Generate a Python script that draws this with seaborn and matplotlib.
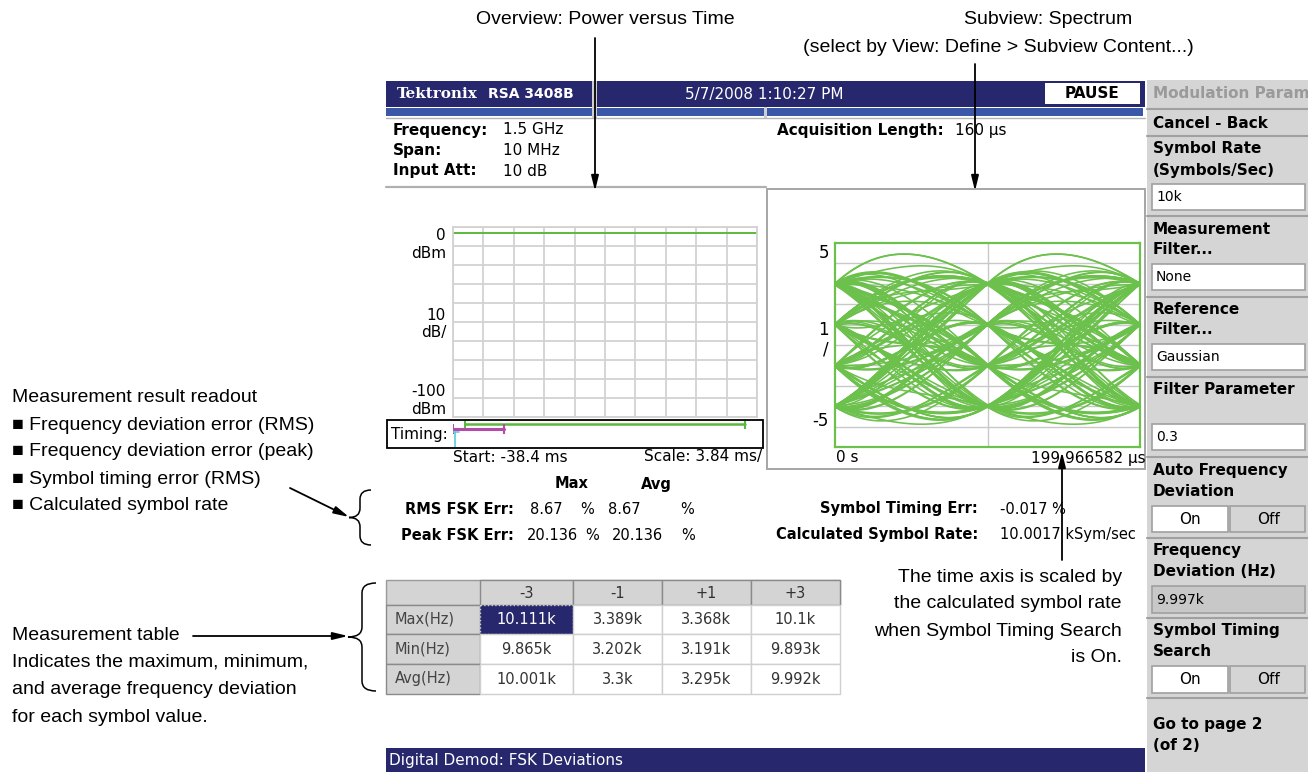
import numpy as np
import pandas as pd
import matplotlib
matplotlib.use("Agg")
import matplotlib.pyplot as plt
import seaborn as sns
from matplotlib.patches import Rectangle, PathPatch
from matplotlib.path import Path

sns.set_style("white")
plt.rcParams["font.family"] = ["DejaVu Sans"]
plt.rcParams["text.color"] = "black"

W, H = 1308, 772
SCREEN = ["DejaVu Sans"]
ANNOT = ["Liberation Sans Narrow", "Liberation Sans", "DejaVu Sans"]

NAVY = "#26276c"
STRIP = "#3b58a8"
GREEN = "#5cb83c"
EYE_GREEN = "#6cc04c"
GRID = "#d2d2d2"
PANEL = "#d5d5d5"

# ---- instrument readouts ----
info_labels = ["Frequency:", "Span:", "Input Att:"]
info_values = ["1.5 GHz", "10 MHz", "10 dB"]
acq_length = "160 µs"

rms_fsk_err = ["8.67", "8.67"]        # Max, Avg (%)
peak_fsk_err = ["20.136", "20.136"]   # Max, Avg (%)
symbol_timing_err = "-0.017"          # %
calc_symbol_rate = 10.0017            # kSym/sec

# ---- measurement table ----
table_symbols = ["-3", "-1", "+1", "+3"]
table_rows = ["Max(Hz)", "Min(Hz)", "Avg(Hz)"]
max_hz = ["10.111k", "3.389k", "3.368k", "10.1k"]
min_hz = ["9.865k", "3.202k", "3.191k", "9.893k"]
avg_hz = ["10.001k", "3.3k", "3.295k", "9.992k"]

# ---- overview: power versus time ----
pvt_time_ms = [-38.4, 0.0]
pvt_power_dbm = [-3.0, -3.0]
timing_acq_ms = [-36.9, -1.5]
timing_analysis_ms = [-38.4, -32.0]
timing_trigger_ms = -38.2

# ---- subview: eye diagram, symbol sample values (deviation) ----
eye_samples = [
    3.02, 2.95, -1.04, -3.01, 1.03, 0.97, -2.96, 3.05, -0.98, 1.01, 3.00, -3.04,
    -1.02, 2.98, 1.05, -0.97, -3.03, -2.97, 0.99, 3.04, 2.96, -1.01, 1.02, -2.99,
    3.01, -3.02, -0.96, 0.98, 2.97, 1.04, -1.03, 3.03, -2.98, 0.96, -1.05, -3.00,
    2.99, 3.02, -0.99, -2.95, 1.00, 2.94, -3.05, 1.06, -1.00, 0.95, 3.06, -0.95,
    -3.01, 2.93, -1.06, 1.02, -2.94, 3.00, 0.97, -0.98, 2.99, -3.06, 1.01, 3.03,
    -1.02, -2.97, 0.94, -1.04, 3.04, -3.00, 2.96, 1.03, -0.97, -3.04, 3.01, 0.99,
    1.05, -2.99, -0.99, 2.97, -3.02, 1.00, 3.05, -1.01, 0.96, -2.96, 2.95, -0.94,
    3.00, 1.02, -3.03, -1.05, 2.98, -2.95, 1.04, -0.96, 3.02, 0.98, -3.01, 2.94,
    -0.97, 3.04, -2.93, -1.03, 0.97, -3.05, 1.01, 2.95, -0.95, -2.98, 3.03, 1.04,
    -1.00, -3.02, 2.97, -0.96, 1.05, 3.01, -3.04, 0.95, -1.04, 2.96, 1.00, -2.97,
    3.05, -0.99, -3.00, 1.03, 2.98, -1.02, 0.99, -2.94, 3.02, 3.00, -1.03, 1.01,
    -3.03, 2.99, -0.98, 0.97, -2.96, 1.02, 3.04, -1.05, -2.99, 2.95, 0.98, -3.01,
]
period_us = 1000.0 / calc_symbol_rate


def eye_traces(samples, tension=1.15, n=40):
    # smooth each two-symbol window through the sampled deviations
    s = np.asarray(samples, dtype=float)
    u = np.linspace(0, 1, n)
    h00 = 2 * u**3 - 3 * u**2 + 1
    h10 = u**3 - 2 * u**2 + u
    h01 = -2 * u**3 + 3 * u**2
    h11 = u**3 - u**2
    segs = {}
    for j in range(1, len(s) - 2):
        m0 = tension * (s[j + 1] - s[j - 1])
        m1 = tension * (s[j + 2] - s[j])
        segs[j] = h00 * s[j] + h10 * m0 + h01 * s[j + 1] + h11 * m1
    frames = []
    for k, j in enumerate(range(1, len(s) - 3)):
        y = np.concatenate([segs[j], segs[j + 1][1:]])
        x = np.concatenate([u, 1 + u[1:]]) * period_us
        frames.append(pd.DataFrame({"t": x, "dev": y, "trace": k}))
    return pd.concat(frames, ignore_index=True)


fig = plt.figure(figsize=(W / 100, H / 100), dpi=100)
bg = fig.add_axes([0, 0, 1, 1])
bg.set_xlim(0, W)
bg.set_ylim(H, 0)
bg.axis("off")


def px_axes(x0, y0, x1, y1):
    return fig.add_axes([x0 / W, 1 - y1 / H, (x1 - x0) / W, (y1 - y0) / H])


def txt(x, y, s, size=11, family=SCREEN, **kw):
    kw.setdefault("va", "center")
    bg.text(x, y, s, fontsize=size, family=family, **kw)


def rect(x0, y0, x1, y1, fc="none", ec="none", lw=1.0, **kw):
    bg.add_patch(Rectangle((x0, y0), x1 - x0, y1 - y0, fc=fc, ec=ec, lw=lw, **kw))


def arrow(x0, y0, x1, y1):
    bg.annotate("", xy=(x1, y1), xytext=(x0, y0),
                arrowprops=dict(arrowstyle="-|>,head_length=0.9,head_width=0.22",
                                color="black", lw=1.3, shrinkA=0, shrinkB=0))


def brace(x_tip, y0, y1, width):
    xm = x_tip + width * 0.5
    xr = x_tip + width
    ym = (y0 + y1) / 2
    r = min(10, (y1 - y0) / 6)
    verts = [(xr, y0), (xm, y0), (xm, y0 + r), (xm, ym - r), (xm, ym), (x_tip, ym),
             (xm, ym), (xm, ym + r), (xm, y1 - r), (xm, y1), (xr, y1)]
    codes = [Path.MOVETO, Path.CURVE3, Path.CURVE3, Path.LINETO, Path.CURVE3, Path.CURVE3,
             Path.CURVE3, Path.CURVE3, Path.LINETO, Path.CURVE3, Path.CURVE3]
    bg.add_patch(PathPatch(Path(verts, codes), fc="none", ec="black", lw=1.1))


# ---------------- screen header ----------------
rect(386, 81, 1145, 107, fc=NAVY)
rect(592, 81, 597, 118, fc="#cfcfcf")
rect(386, 108, 1143, 116, fc=STRIP)
rect(592, 107, 597, 118, fc="#cfcfcf")
rect(764, 107, 767, 118, fc="#cfcfcf")
bg.plot([386, 1145], [118, 118], color="#b5b5b5", lw=1)
txt(397, 94, "Tektronix", size=11, color="white", weight="bold", family=["DejaVu Serif"])
txt(488, 94, "RSA 3408B", size=10, color="white", weight="bold")
txt(764, 94, "5/7/2008 1:10:27 PM", size=11, color="white", ha="center")
rect(1045, 83, 1140, 104, fc="white")
txt(1092, 94, "PAUSE", size=11, ha="center", weight="bold", color="black")

for i, (lab, val) in enumerate(zip(info_labels, info_values)):
    y = 130 + i * 20.5
    txt(393, y, lab, size=11, weight="bold")
    txt(503, y, val, size=11)
txt(777, 130, "Acquisition Length:", size=11, weight="bold")
txt(955, 130, acq_length, size=11)
bg.plot([386, 766], [187, 187], color="#b0b0b0", lw=1.6)

# ---------------- overview: power vs time ----------------
ax_pvt = px_axes(453, 227, 757, 417)
sns.lineplot(x=pvt_time_ms, y=pvt_power_dbm, ax=ax_pvt, color=GREEN, lw=1.4)
ax_pvt.set_xlim(pvt_time_ms[0], pvt_time_ms[1])
ax_pvt.set_ylim(-100, 0)
ax_pvt.set_xticks(np.linspace(pvt_time_ms[0], pvt_time_ms[1], 11))
ax_pvt.set_yticks(np.linspace(-100, 0, 11))
ax_pvt.tick_params(length=0, labelbottom=False, labelleft=False)
ax_pvt.grid(True, color=GRID, lw=1.3)
ax_pvt.set_axisbelow(True)
for sp in ax_pvt.spines.values():
    sp.set_color(GRID)
    sp.set_linewidth(1.3)
ax_pvt.set_xlabel("")
ax_pvt.set_ylabel("")

txt(446, 236, "0", size=11, ha="right")
txt(446, 254, "dBm", size=11, ha="right")
txt(446, 315, "10", size=11, ha="right")
txt(446, 333, "dB/", size=11, ha="right")
txt(446, 391, "-100", size=11, ha="right")
txt(446, 409, "dBm", size=11, ha="right")

rect(387, 420, 763, 448, ec="black", lw=1.3)
txt(391, 434, "Timing:", size=11)
ax_tm = px_axes(453, 421, 757, 447)
ax_tm.set_xlim(pvt_time_ms[0], pvt_time_ms[1])
ax_tm.set_ylim(26, 0)
ax_tm.axis("off")
ax_tm.plot(timing_acq_ms, [3, 3], color=GREEN, lw=1.8, marker="|", ms=7, mew=1.5)
ax_tm.plot(timing_analysis_ms, [8, 8], color="#b54aa8", lw=2.2, marker="|", ms=7, mew=1.5)
ax_tm.plot([timing_trigger_ms, timing_trigger_ms], [11, 26], color="#5cc8d8", lw=1.2)
ax_tm.plot([timing_trigger_ms - 0.6, timing_trigger_ms + 0.6], [11, 11], color="#5cc8d8", lw=1.2)
txt(453, 457, "Start: -38.4 ms", size=11)
txt(762, 457, "Scale: 3.84 ms/", size=11, ha="right")

# ---------------- subview: eye diagram ----------------
rect(767, 189, 1145, 469, ec="#a5a5a5", lw=1.4)
eye_df = eye_traces(eye_samples)
ax_eye = px_axes(835, 243, 1140, 447)
sns.lineplot(data=eye_df, x="t", y="dev", units="trace", estimator=None,
             color=EYE_GREEN, lw=1.15, ax=ax_eye, sort=False)
ax_eye.set_xlim(0, 2 * period_us)
ax_eye.set_ylim(-5, 5)
ax_eye.set_xticks([period_us])
ax_eye.set_yticks(np.arange(-4, 5, 1))
ax_eye.tick_params(length=0, labelbottom=False, labelleft=False)
ax_eye.grid(True, color="#c8c8c8", lw=1.0)
ax_eye.set_axisbelow(True)
ax_eye.set_xlabel("")
ax_eye.set_ylabel("")
for sp in ax_eye.spines.values():
    sp.set_color(EYE_GREEN)
    sp.set_linewidth(1.6)

txt(829, 253, "5", size=12, ha="right")
txt(829, 330, "1", size=12, ha="right")
txt(829, 350, "/", size=12, ha="right")
txt(829, 421, "-5", size=12, ha="right")
txt(836, 458, "0 s", size=11)
txt(1146, 458, "199.966582 µs", size=11, ha="right")

# ---------------- readout ----------------
txt(572, 484, "Max", size=10.5, weight="bold", ha="center")
txt(656, 484, "Avg", size=10.5, weight="bold", ha="center")
txt(514, 509, "RMS FSK Err:", size=10.5, weight="bold", ha="right")
txt(514, 535, "Peak FSK Err:", size=10.5, weight="bold", ha="right")
for val, xr, xp in zip(rms_fsk_err, [563, 641], [580, 680]):
    txt(xr, 509, val, size=10.5, ha="right")
    txt(xp, 509, "%", size=10.5)
for val, xr, xp in zip(peak_fsk_err, [578, 663], [585, 681]):
    txt(xr, 535, val, size=10.5, ha="right")
    txt(xp, 535, "%", size=10.5)
txt(978, 509, "Symbol Timing Err:", size=10.5, weight="bold", ha="right")
txt(1000, 509, f"{symbol_timing_err} %", size=10.5)
txt(978, 535, "Calculated Symbol Rate:", size=10.5, weight="bold", ha="right")
txt(1000, 535, f"{calc_symbol_rate:.4f} kSym/sec", size=10.5)

# ---------------- measurement table ----------------
col_x = [386, 480, 573, 662, 751, 840]
row_y = [580, 605, 634, 664, 694]
rect(col_x[0], row_y[0], col_x[-1], row_y[1], fc="#d4d4d4", ec="#9a9a9a", lw=1)
for i, sym in enumerate(table_symbols):
    rect(col_x[i + 1], row_y[0], col_x[i + 2], row_y[1], fc="#d4d4d4", ec="#8a8a8a", lw=1)
    txt((col_x[i + 1] + col_x[i + 2]) / 2, 593, sym, size=10.5, ha="center", color="#333333")
for r, (lab, vals) in enumerate(zip(table_rows, [max_hz, min_hz, avg_hz])):
    y0, y1 = row_y[r + 1], row_y[r + 2]
    rect(col_x[0], y0, col_x[1], y1, fc="#d4d4d4", ec="#8a8a8a", lw=1)
    txt(395, (y0 + y1) / 2, lab, size=10.5, color="#444444")
    for c, v in enumerate(vals):
        sel = (r == 0 and c == 0)
        rect(col_x[c + 1], y0, col_x[c + 2], y1, fc=NAVY if sel else "white",
             ec="#cfcfcf", lw=1, ls=":" if sel else "-")
        txt((col_x[c + 1] + col_x[c + 2]) / 2, (y0 + y1) / 2, v, size=10.5, ha="center",
            color="white" if sel else "#333333")

rect(386, 748, 1145, 772, fc=NAVY)
txt(389, 761, "Digital Demod: FSK Deviations", size=11, color="white")

# ---------------- right side menu ----------------
rect(1147, 80, 1308, 772, fc=PANEL)
txt(1153, 94, "Modulation Param", size=11, color="#9a9a9a", weight="bold")
for y in [109, 136, 216, 297, 377, 457, 538, 618, 698]:
    bg.plot([1147, 1308], [y, y], color="#a0a0a0", lw=1.5)
menu_text = [
    (123, "Cancel - Back"), (148, "Symbol Rate"), (170, "(Symbols/Sec)"),
    (229, "Measurement"), (250, "Filter..."), (309, "Reference"), (330, "Filter..."),
    (390, "Filter Parameter"), (470, "Auto Frequency"), (491, "Deviation"),
    (550, "Frequency"), (571, "Deviation (Hz)"), (631, "Symbol Timing"), (651, "Search"),
    (725, "Go to page 2"), (745, "(of 2)"),
]
for y, s in menu_text:
    txt(1153, y, s, size=11, weight="bold")
for (y0, y1, s, fc) in [(184, 210, "10k", "white"), (264, 290, "None", "white"),
                        (344, 370, "Gaussian", "white"), (424, 450, "0.3", "white"),
                        (586, 613, "9.997k", "#c8c8c8")]:
    rect(1152, y0, 1305, y1, fc=fc, ec="#a0a0a0", lw=1.2)
    txt(1156, (y0 + y1) / 2, s, size=10)
for (y0, y1) in [(506, 532), (666, 693)]:
    rect(1152, y0, 1228, y1, fc="white", ec="#a0a0a0", lw=1.2)
    rect(1230, y0, 1305, y1, fc=PANEL, ec="#a0a0a0", lw=1.2)
    txt(1190, (y0 + y1) / 2, "On", size=11, ha="center")
    txt(1268, (y0 + y1) / 2, "Off", size=11, ha="center")

# ---------------- callouts ----------------
AS = 14
txt(605, 20, "Overview: Power versus Time", size=AS, family=ANNOT, ha="center")
txt(1048, 20, "Subview: Spectrum", size=AS, family=ANNOT, ha="center")
txt(998, 47, "(select by View: Define > Subview Content...)", size=AS, family=ANNOT, ha="center")
arrow(595, 38, 595, 191)
arrow(975, 64, 975, 191)

txt(12, 397, "Measurement result readout", size=AS, family=ANNOT)
for i, s in enumerate(["Frequency deviation error (RMS)", "Frequency deviation error (peak)",
                       "Symbol timing error (RMS)", "Calculated symbol rate"]):
    txt(12, 425 + i * 27, "■ " + s, size=AS, family=ANNOT)
arrow(290, 488, 349, 517)
brace(349, 490, 545, 22)

txt(12, 635, "Measurement table", size=AS, family=ANNOT)
for i, s in enumerate(["Indicates the maximum, minimum,", "and average frequency deviation",
                       "for each symbol value."]):
    txt(12, 662 + i * 27.5, s, size=AS, family=ANNOT)
arrow(193, 636, 348, 636)
brace(348, 583, 691, 28)

arrow(1062, 560, 1062, 452)
for i, s in enumerate(["The time axis is scaled by", "the calculated symbol rate",
                       "when Symbol Timing Search", "is On."]):
    txt(1122, 577 + i * 27, s, size=AS, family=ANNOT, ha="right")

fig.savefig("out.png", dpi=100)
